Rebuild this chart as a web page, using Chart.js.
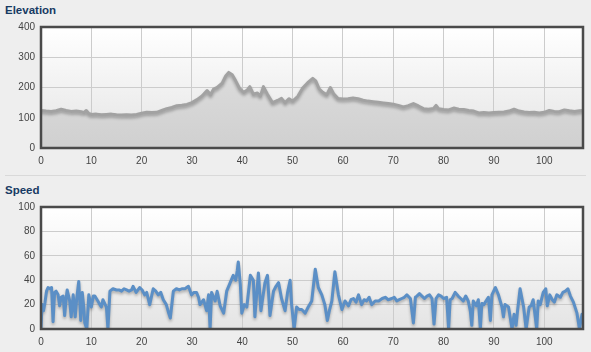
<!DOCTYPE html>
<html>
<head>
<meta charset="utf-8">
<script src="https://cdn.jsdelivr.net/npm/chart.js@4"></script>
<style>
  html, body { margin: 0; padding: 0; }
  body { width: 591px; height: 352px; background: #eeeeee; position: relative; overflow: hidden; font-family: "Liberation Sans", Arial, sans-serif; }
  .title { position: absolute; left: 5px; font-size: 11.5px; font-weight: bold; color: #173a63; line-height: 14px; }
  .sep { position: absolute; left: 5px; right: 5px; top: 175px; height: 1px; background: #d9d9d9; }
  .box { position: absolute; left: 0; width: 591px; }
</style>
</head>
<body>
<div class="title" style="top:3px">Elevation</div>
<div class="box" style="top:15px;height:160px"><canvas id="elevChart"></canvas></div>
<div class="sep"></div>
<div class="title" style="top:183px">Speed</div>
<div class="box" style="top:195px;height:157px"><canvas id="speedChart"></canvas></div>
<script>
// distance in km
const elevDist = [0, 1, 2, 3, 4, 5, 6, 7, 8, 8.5, 9, 9.5, 10, 11, 12, 13, 14, 15, 16, 17, 18, 19, 20, 21, 22, 23, 24, 25, 26, 27, 28, 29, 30, 31, 32, 33, 33.7, 34.3, 35, 36, 36.7, 37.3, 38, 38.7, 39.5, 40.3, 41, 41.5, 42.2, 43, 43.6, 44.2, 45, 46, 47, 47.8, 48.5, 49.3, 50, 51, 52, 53, 54, 54.6, 55.3, 56, 56.8, 57.5, 58.2, 59, 60, 61, 62, 63, 64, 65, 66, 67, 68, 69, 70, 71, 72, 73, 74, 75, 76, 77, 78, 78.5, 79, 80, 81, 82, 83, 84, 85, 86, 87, 88, 89, 90, 91, 92, 93, 94, 95, 96, 97, 98, 99, 100, 101, 102, 103, 104, 105, 106, 107, 107.7];
const elevValues = [124, 122, 121, 123, 128, 124, 121, 122, 120, 117, 124, 114, 111, 112, 110, 111, 112, 110, 109, 110, 109, 111, 115, 118, 117, 118, 124, 130, 134, 140, 141, 144, 150, 160, 172, 190, 176, 195, 200, 214, 238, 250, 242, 222, 196, 184, 192, 203, 178, 182, 172, 203, 178, 150, 157, 164, 150, 163, 155, 170, 198, 216, 230, 222, 195, 184, 176, 200, 178, 164, 162, 163, 165, 163, 158, 155, 153, 151, 149, 147, 145, 141, 136, 140, 147, 139, 130, 128, 131, 141, 130, 127, 126, 132, 128, 127, 124, 122, 116, 117, 116, 117, 118, 119, 122, 128, 122, 119, 117, 118, 116, 118, 124, 121, 120, 126, 123, 121, 123, 124];

const speedDist = [0, 0.2, 0.5, 0.8, 1.1, 1.4, 1.8, 2.1, 2.4, 2.7, 3.0, 3.4, 3.7, 4.0, 4.4, 4.7, 5.0, 5.2, 5.7, 6.0, 6.4, 6.8, 7.1, 7.5, 7.9, 8.2, 8.5, 8.7, 9.1, 9.5, 10.0, 10.4, 10.7, 11.3, 11.7, 12.0, 12.3, 13.0, 13.3, 13.7, 14.3, 15.0, 15.5, 16.0, 16.5, 17.0, 17.5, 18.0, 18.3, 18.9, 19.6, 20.1, 20.6, 21.0, 21.6, 22.3, 22.8, 23.3, 23.8, 24.3, 24.9, 25.3, 25.7, 26.3, 26.9, 27.5, 28.0, 28.6, 29.3, 29.9, 30.4, 30.9, 31.3, 31.6, 32.3, 32.9, 33.3, 33.6, 33.9, 34.3, 34.6, 35.0, 35.6, 36.3, 36.9, 37.6, 38.2, 38.7, 39.0, 39.2, 39.6, 39.9, 40.4, 40.9, 41.6, 42.2, 42.5, 43.2, 43.7, 44.5, 45.0, 45.5, 46.2, 46.7, 47.2, 47.8, 48.5, 49.0, 49.5, 49.8, 50.3, 50.8, 51.3, 51.8, 52.5, 53.1, 53.8, 54.5, 55.1, 55.8, 56.4, 56.9, 57.3, 57.8, 58.4, 59.1, 59.8, 60.4, 61.1, 61.6, 62.1, 62.6, 63.1, 63.7, 64.2, 64.7, 65.2, 65.7, 66.4, 67.1, 67.8, 68.4, 69.0, 69.7, 70.2, 70.7, 71.2, 71.7, 72.2, 72.7, 73.4, 74.0, 74.4, 74.7, 75.2, 75.7, 76.2, 76.7, 77.2, 77.7, 78.1, 78.5, 79.0, 79.5, 80.0, 80.6, 81.0, 81.3, 81.7, 82.3, 82.9, 83.4, 83.9, 84.4, 84.9, 85.3, 85.6, 85.9, 86.5, 86.9, 87.3, 87.6, 88.0, 88.3, 88.9, 89.3, 89.6, 90.3, 90.9, 91.6, 91.9, 92.2, 92.9, 93.6, 94.0, 94.4, 94.7, 95.2, 95.9, 96.4, 97.0, 97.4, 97.8, 98.5, 98.8, 99.2, 99.8, 100.3, 100.6, 101.1, 101.6, 102.0, 102.5, 103.2, 103.7, 104.2, 104.7, 105.2, 105.8, 106.5, 107.0, 107.5, 107.7];
const speedValues = [0, 20, 15, 22, 31, 34, 33, 34, 6, 30, 31, 28, 19, 26, 27, 11, 25, 32, 23, 10, 28, 10, 25, 39, 7, 30, 18, 5, 0, 28, 18, 27, 27, 23, 20, 18, 24, 18, 0, 31, 33, 32, 32, 31, 33, 32, 31, 32, 35, 30, 34, 32, 28, 30, 20, 33, 31, 28, 30, 24, 20, 14, 9, 31, 33, 32, 33, 33, 35, 28, 30, 30, 26, 20, 24, 15, 28, 0, 30, 26, 23, 31, 19, 13, 31, 38, 44, 40, 48, 55, 37, 13, 20, 18, 44, 40, 10, 46, 15, 38, 44, 11, 31, 35, 38, 25, 15, 30, 40, 20, 0, 18, 16, 16, 13, 18, 23, 49, 34, 28, 20, 7, 15, 23, 47, 28, 16, 23, 19, 24, 25, 22, 28, 20, 24, 23, 26, 20, 23, 23, 25, 26, 24, 25, 26, 23, 24, 25, 26, 28, 25, 5, 26, 27, 29, 27, 25, 27, 28, 25, 4, 25, 28, 27, 25, 26, 0, 24, 25, 30, 27, 25, 23, 27, 23, 15, 3, 23, 19, 24, 0, 21, 20, 22, 26, 7, 28, 34, 28, 18, 10, 20, 18, 0, 12, 3, 15, 33, 18, 0, 18, 19, 24, 0, 23, 20, 30, 33, 19, 28, 24, 22, 28, 26, 30, 31, 33, 27, 22, 13, 0, 12];

const xTickStep = 10;
const xMax = 107.7;
const elevTicks = { min: 0, max: 400, step: 100 };
const speedTicks = { min: 0, max: 100, step: 20 };

function toPoints(xs, ys) {
    return xs.map((x, i) => ({ x: x, y: ys[i] }));
}

// gradient plot background and dark frame round it
const plotFrame = {
    id: 'plotFrame',
    beforeDraw(chart) {
        const { ctx, chartArea: a } = chart;
        const g = ctx.createLinearGradient(0, a.top, 0, a.bottom);
        g.addColorStop(0, '#ffffff');
        g.addColorStop(1, '#e4e4e4');
        ctx.save();
        ctx.fillStyle = g;
        ctx.fillRect(a.left, a.top, a.right - a.left, a.bottom - a.top);
        ctx.restore();
    },
    afterDraw(chart) {
        const { ctx, chartArea: a } = chart;
        ctx.save();
        ctx.strokeStyle = '#4a4a4a';
        ctx.lineWidth = 2.5;
        ctx.strokeRect(a.left, a.top, a.right - a.left, a.bottom - a.top);
        ctx.restore();
    }
};

// soft drop shadow under the line
const lineShadow = {
    id: 'lineShadow',
    beforeDatasetDraw(chart) {
        const ctx = chart.ctx;
        ctx.save();
        ctx.shadowColor = 'rgba(0,0,0,0.28)';
        ctx.shadowBlur = 3;
        ctx.shadowOffsetY = 2;
    },
    afterDatasetDraw(chart) {
        chart.ctx.restore();
    }
};

function makeOptions(yt, topPad, xAxisHeight) {
    return {
        responsive: true,
        maintainAspectRatio: false,
        animation: false,
        layout: { padding: { top: topPad, right: 8, left: 0, bottom: 0 } },
        plugins: { legend: { display: false }, tooltip: { enabled: false } },
        elements: {
            point: { radius: 0 },
            line: { borderJoinStyle: 'round', borderCapStyle: 'round' }
        },
        scales: {
            x: {
                type: 'linear',
                min: 0,
                max: xMax,
                afterFit(scale) { scale.height = xAxisHeight; },
                afterBuildTicks(scale) {
                    scale.ticks = scale.ticks.filter(t => t.value % xTickStep === 0);
                },
                ticks: {
                    stepSize: xTickStep,
                    includeBounds: false,
                    maxRotation: 0,
                    padding: 7,
                    color: '#444',
                    font: { family: 'Liberation Sans', size: 10 }
                },
                grid: { color: '#cccccc', drawTicks: false },
                border: { display: false }
            },
            y: {
                min: yt.min,
                max: yt.max,
                afterFit(scale) { scale.width = 41; },
                ticks: {
                    stepSize: yt.step,
                    padding: 6,
                    color: '#444',
                    font: { family: 'Liberation Sans', size: 10 }
                },
                grid: { color: '#cccccc', drawTicks: false },
                border: { display: false }
            }
        }
    };
}

new Chart(document.getElementById('elevChart').getContext('2d'), {
    type: 'line',
    data: {
        datasets: [{
            data: toPoints(elevDist, elevValues),
            borderColor: '#a2a2a2',
            borderWidth: 3,
            tension: 0,
            fill: 'origin',
            backgroundColor: function (context) {
                const a = context.chart.chartArea;
                if (!a) return '#d6d6d6';
                const g = context.chart.ctx.createLinearGradient(0, a.top, 0, a.bottom);
                g.addColorStop(0, '#e2e2e2');
                g.addColorStop(1, '#d0d0d0');
                return g;
            }
        }]
    },
    options: makeOptions(elevTicks, 10, 27),
    plugins: [plotFrame, lineShadow]
});

new Chart(document.getElementById('speedChart').getContext('2d'), {
    type: 'line',
    data: {
        datasets: [{
            data: toPoints(speedDist, speedValues),
            borderColor: '#5b8fc6',
            borderWidth: 3,
            tension: 0,
            fill: false
        }]
    },
    options: makeOptions(speedTicks, 10, 23),
    plugins: [plotFrame, lineShadow]
});
</script>
</body>
</html>
